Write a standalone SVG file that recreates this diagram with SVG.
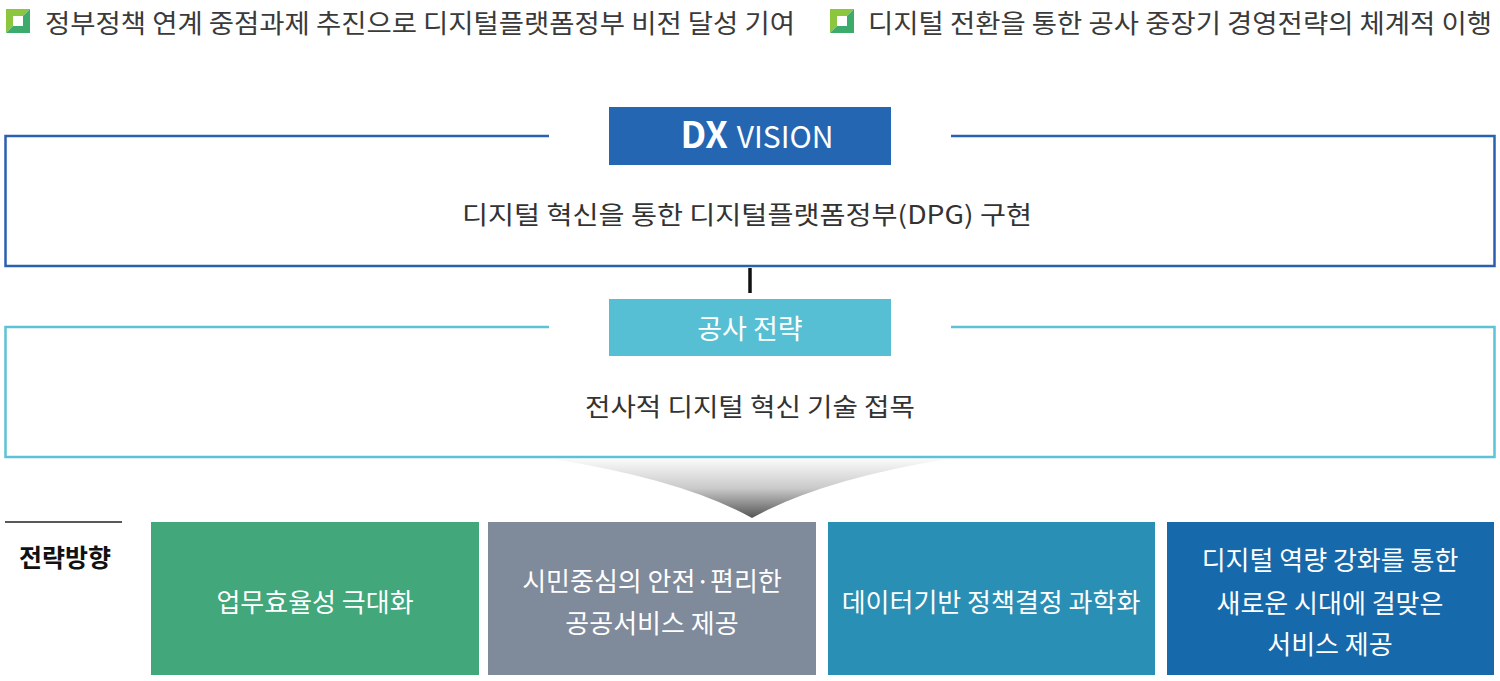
<svg xmlns="http://www.w3.org/2000/svg" width="1500" height="681" viewBox="0 0 1500 681">
<style>
  text { font-family: "Noto Sans CJK KR", "Noto Sans", sans-serif; }
  .hdr { font-size: 26px; fill: #3a3a3a; }
  .main { font-size: 25px; fill: #333333; }
  .lbl { font-size: 27px; fill: #ffffff; }
  .card { font-size: 26px; fill: #ffffff; }
  .frame-blue { fill: none; stroke: #2b60b0; stroke-width: 2.5; }
  .frame-teal { fill: none; stroke: #5cc3d6; stroke-width: 2.5; }
</style>
<defs>
  <linearGradient id="funnel" x1="0" y1="0" x2="0" y2="1">
    <stop offset="0" stop-color="#fafafa"/>
    <stop offset="0.5" stop-color="#c9c9c9"/>
    <stop offset="1" stop-color="#555555"/>
  </linearGradient>
  <g id="bullet">
    <polygon points="0,0 24,0 0,24" fill="#8cc63e"/>
    <polygon points="24,0 24,24 0,24" fill="#3dab6b"/>
    <rect x="7" y="7" width="10" height="10" fill="#ffffff"/>
  </g>
</defs>
<rect width="1500" height="681" fill="#ffffff"/>

<g id="header1">
  <use href="#bullet" x="6" y="9"/>
  <text class="hdr" x="45" y="21" dominant-baseline="central" textLength="750" lengthAdjust="spacingAndGlyphs">정부정책 연계 중점과제 추진으로 디지털플랫폼정부 비전 달성 기여</text>
</g>
<g id="header2">
  <use href="#bullet" x="830" y="9"/>
  <text class="hdr" x="868" y="21" dominant-baseline="central" textLength="624" lengthAdjust="spacingAndGlyphs">디지털 전환을 통한 공사 중장기 경영전략의 체계적 이행</text>
</g>

<g id="vision">
  <path class="frame-blue" d="M549,136 H5.5 V266 H1494.5 V136 H951"/>
  <rect x="609" y="107" width="282" height="58" fill="#2566b2"/>
  <text x="757" y="148" text-anchor="middle" fill="#ffffff" font-family="'Noto Sans', sans-serif"><tspan font-size="36" font-weight="700">DX</tspan><tspan font-size="30" dx="9">VISION</tspan></text>
  <text class="main" x="747" y="213" text-anchor="middle" dominant-baseline="central" textLength="570" lengthAdjust="spacingAndGlyphs">디지털 혁신을 통한 디지털플랫폼정부(DPG) 구현</text>
</g>

<g id="strategy">
  <path class="frame-teal" d="M549,327 H5.5 V457 H1494.5 V327 H951"/>
  <rect x="609" y="299" width="282" height="57" fill="#56bfd3"/>
  <text class="lbl" x="750" y="327" text-anchor="middle" dominant-baseline="central">공사 전략</text>
  <text class="main" x="750" y="405" text-anchor="middle" dominant-baseline="central" textLength="330" lengthAdjust="spacingAndGlyphs">전사적 디지털 혁신 기술 접목</text>
</g>

<g id="connectors">
  <line x1="750" y1="268" x2="750" y2="293" stroke="#111111" stroke-width="3.5"/>
  <path d="M553,459 L947,459 Q820,480 752,518 Q684,480 553,459 Z" fill="url(#funnel)"/>
</g>

<g id="direction-label">
  <line x1="5" y1="522" x2="122" y2="522" stroke="#222222" stroke-width="1.5"/>
  <text x="65" y="556" text-anchor="middle" dominant-baseline="central" font-size="25" font-weight="700" fill="#111111">전략방향</text>
</g>

<g id="card1">
  <rect x="151" y="522" width="328" height="153" fill="#42a77a"/>
  <text class="card" x="315" y="600" text-anchor="middle" dominant-baseline="central">업무효율성 극대화</text>
</g>
<g id="card2">
  <rect x="488" y="522" width="328" height="153" fill="#7f8a9b"/>
  <text class="card" x="652" y="579" text-anchor="middle" dominant-baseline="central">시민중심의 안전·편리한</text>
  <text class="card" x="652" y="621" text-anchor="middle" dominant-baseline="central">공공서비스 제공</text>
</g>
<g id="card3">
  <rect x="828" y="522" width="327" height="153" fill="#2a8fb5"/>
  <text class="card" x="991" y="600" text-anchor="middle" dominant-baseline="central">데이터기반 정책결정 과학화</text>
</g>
<g id="card4">
  <rect x="1167" y="522" width="327" height="153" fill="#1669ab"/>
  <text class="card" x="1330" y="558" text-anchor="middle" dominant-baseline="central">디지털 역량 강화를 통한</text>
  <text class="card" x="1330" y="601" text-anchor="middle" dominant-baseline="central">새로운 시대에 걸맞은</text>
  <text class="card" x="1330" y="642" text-anchor="middle" dominant-baseline="central">서비스 제공</text>
</g>
</svg>
